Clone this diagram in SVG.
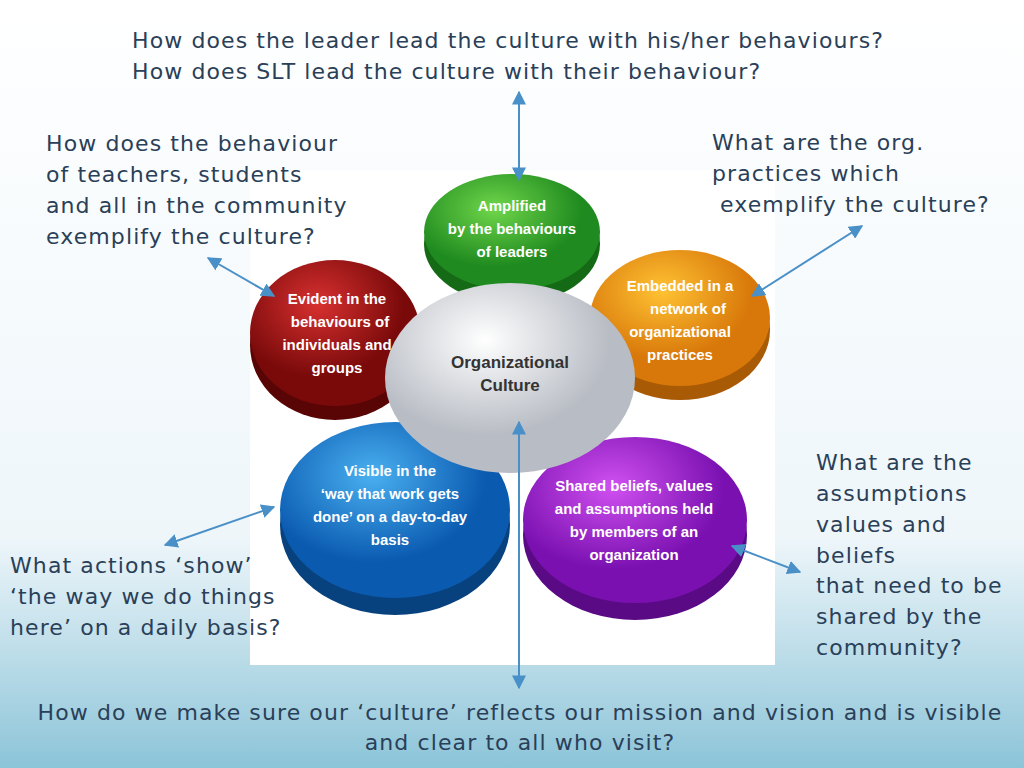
<svg xmlns="http://www.w3.org/2000/svg" width="1024" height="768" viewBox="0 0 1024 768">
<defs>
<linearGradient id="bg" x1="0" y1="0" x2="0" y2="1">
<stop offset="0" stop-color="#ffffff"/><stop offset="0.7" stop-color="#eef6fa"/><stop offset="1" stop-color="#8cc4d8"/>
</linearGradient>
<radialGradient id="gG" cx="0.4" cy="0.3"><stop offset="0" stop-color="#6fd64a"/><stop offset="1" stop-color="#1f8a1f"/></radialGradient>
<radialGradient id="gO" cx="0.4" cy="0.3"><stop offset="0" stop-color="#ffc233"/><stop offset="1" stop-color="#d8780a"/></radialGradient>
<radialGradient id="gP" cx="0.4" cy="0.3"><stop offset="0" stop-color="#d050f0"/><stop offset="1" stop-color="#7a10b0"/></radialGradient>
<radialGradient id="gB" cx="0.4" cy="0.3"><stop offset="0" stop-color="#4ab0f0"/><stop offset="1" stop-color="#0a5ab0"/></radialGradient>
<radialGradient id="gR" cx="0.4" cy="0.3"><stop offset="0" stop-color="#d83030"/><stop offset="1" stop-color="#7a0a0a"/></radialGradient>
<radialGradient id="gC" cx="0.4" cy="0.3"><stop offset="0" stop-color="#ffffff"/><stop offset="1" stop-color="#b8bcc4"/></radialGradient>
<marker id="ah" viewBox="0 0 10 10" refX="9" refY="5" markerWidth="7" markerHeight="7" orient="auto-start-reverse"><path d="M0,0 L10,5 L0,10 z" fill="#4a90c8"/></marker>
</defs>
<style>
.q{font-family:"DejaVu Sans",sans-serif;font-size:22px;letter-spacing:1.1px;fill:#2a3f58}
.w{font-family:"Liberation Sans",Arial,sans-serif;font-size:15px;font-weight:bold;fill:#fff;text-anchor:middle}
.c{font-family:"Liberation Sans",Arial,sans-serif;font-size:17px;font-weight:bold;fill:#333;text-anchor:middle}
.a{stroke:#4a90c8;stroke-width:2;fill:none;marker-start:url(#ah);marker-end:url(#ah)}
</style>
<rect width="1024" height="768" fill="url(#bg)"/>
<rect x="250" y="170" width="525" height="495" fill="#fff"/>
<g id="green"><ellipse cx="512" cy="244" rx="88" ry="60" fill="#156a15"/><ellipse cx="512" cy="232" rx="88" ry="58" fill="url(#gG)"/>
<text class="w" x="512" y="211">Amplified</text><text class="w" x="512" y="234">by the behaviours</text><text class="w" x="512" y="257">of leaders</text></g>
<g id="orange"><ellipse cx="680" cy="330" rx="90" ry="70" fill="#a85a05"/><ellipse cx="680" cy="318" rx="90" ry="68" fill="url(#gO)"/>
<text class="w" x="680" y="291">Embedded in a</text><text class="w" x="688" y="314">network of</text><text class="w" x="680" y="337">organizational</text><text class="w" x="680" y="360">practices</text></g>
<g id="red"><ellipse cx="335" cy="345" rx="85" ry="75" fill="#5a0505"/><ellipse cx="335" cy="333" rx="85" ry="73" fill="url(#gR)"/>
<text class="w" x="337" y="304">Evident in the</text><text class="w" x="340" y="327">behaviours of</text><text class="w" x="337" y="350">individuals and</text><text class="w" x="337" y="373">groups</text></g>
<g id="purple"><ellipse cx="635" cy="535" rx="112" ry="85" fill="#5a0a85"/><ellipse cx="635" cy="520" rx="112" ry="83" fill="url(#gP)"/>
<text class="w" x="634" y="491">Shared beliefs, values</text><text class="w" x="634" y="514">and assumptions held</text><text class="w" x="634" y="537">by members of an</text><text class="w" x="634" y="560">organization</text></g>
<g id="blue"><ellipse cx="395" cy="525" rx="115" ry="90" fill="#08427e"/><ellipse cx="395" cy="510" rx="115" ry="88" fill="url(#gB)"/>
<text class="w" x="390" y="476">Visible in the</text><text class="w" x="390" y="499">‘way that work gets</text><text class="w" x="390" y="522">done’ on a day-to-day</text><text class="w" x="390" y="545">basis</text></g>
<g id="center"><ellipse cx="510" cy="378" rx="125" ry="95" fill="url(#gC)"/>
<text class="c" x="510" y="368">Organizational</text><text class="c" x="510" y="391">Culture</text></g>
<g id="connectors">
<line class="a" x1="519" y1="92" x2="519" y2="180"/>
<line class="a" x1="208" y1="258" x2="274" y2="296"/>
<line class="a" x1="862" y1="226" x2="752" y2="296"/>
<line class="a" x1="165" y1="545" x2="274" y2="507"/>
<line class="a" x1="800" y1="572" x2="732" y2="546"/>
<line class="a" x1="519" y1="422" x2="519" y2="688"/>
</g>
<text class="q" x="132" y="48">How does the leader lead the culture with his/her behaviours?</text>
<text class="q" x="132" y="79">How does SLT lead the culture with their behaviour?</text>
<text class="q" x="46" y="151">How does the behaviour</text>
<text class="q" x="46" y="182">of teachers, students</text>
<text class="q" x="46" y="213">and all in the community</text>
<text class="q" x="46" y="244">exemplify the culture?</text>
<text class="q" x="712" y="150">What are the org.</text>
<text class="q" x="712" y="181">practices which</text>
<text class="q" x="720" y="212">exemplify the culture?</text>
<text class="q" x="816" y="470">What are the</text>
<text class="q" x="816" y="501">assumptions</text>
<text class="q" x="816" y="532">values and</text>
<text class="q" x="816" y="563">beliefs</text>
<text class="q" x="816" y="593">that need to be</text>
<text class="q" x="816" y="624">shared by the</text>
<text class="q" x="816" y="655">community?</text>
<text class="q" x="10" y="573">What actions ‘show’</text>
<text class="q" x="10" y="604">‘the way we do things</text>
<text class="q" x="10" y="635">here’ on a daily basis?</text>
<text class="q" x="520" y="720" text-anchor="middle">How do we make sure our ‘culture’ reflects our mission and vision and is visible</text>
<text class="q" x="520" y="750" text-anchor="middle">and clear to all who visit?</text>
</svg>
